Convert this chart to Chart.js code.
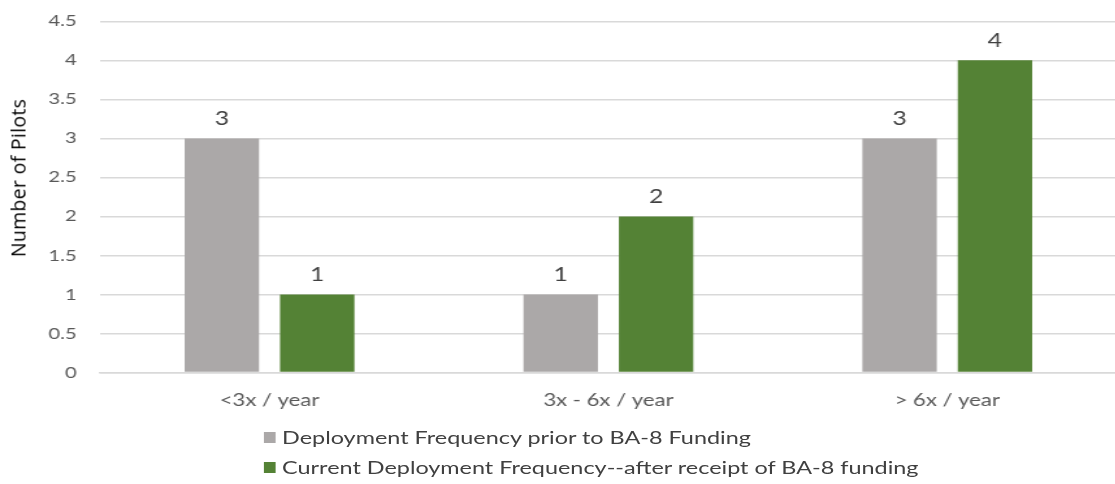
<!DOCTYPE html>
<html>
<head>
<meta charset="utf-8">
<script src="https://cdn.jsdelivr.net/npm/chart.js@4/dist/chart.umd.min.js"></script>
<style>
  html, body { margin: 0; padding: 0; background: #fff; overflow: hidden; }
  /* la imagen original esta estirada en horizontal */
  #todo { position: absolute; left: 0; top: 0; width: 866px; height: 484px; transform: scaleX(1.3); transform-origin: 0 0; }
  #wrap { position: absolute; left: 0; top: -6px; width: 866px; height: 427px; }
  #legend { position: absolute; left: 203px; top: 422px; font-family: Lato, "Open Sans", sans-serif; font-size: 18px; color: #404040; }
  #legend div { height: 30px; line-height: 30px; white-space: nowrap; }
  #legend span { display: inline-block; width: 8.5px; height: 11px; margin-right: 5.5px; vertical-align: 1px; }
  #titulo { position: absolute; left: 18px; top: 178px; transform: translate(-50%, -50%) rotate(-90deg); font-family: "Open Sans", sans-serif; font-size: 19.5px; letter-spacing: 0.3px; color: #000; white-space: nowrap; }
</style>
</head>
<body>
<div id="todo">
  <div id="wrap"><canvas id="grafico"></canvas></div>
  <div id="legend"></div>
</div>
<div id="titulo">Number of Pilots</div>
<script>
// categorias y series
const categorias = ['<3x / year', '3x - 6x / year', '> 6x / year'];
const antes = [3, 1, 3];
const despues = [1, 2, 4];
const nombres = ['Deployment Frequency prior to BA-8 Funding', 'Current Deployment Frequency--after receipt of BA-8 funding'];
const colores = ['#aba8a8', '#548235'];
const ticksY = [0, 0.5, 1, 1.5, 2, 2.5, 3, 3.5, 4, 4.5];

// etiquetas encima de las barras
const etiquetas = {
    id: 'etiquetas',
    afterDatasetsDraw(chart) {
        const ctx = chart.ctx;
        ctx.save();
        ctx.font = '19px Lato, "Open Sans", sans-serif';
        ctx.fillStyle = '#404040';
        ctx.textAlign = 'center';
        ctx.textBaseline = 'bottom';
        chart.data.datasets.forEach((ds, i) => {
            chart.getDatasetMeta(i).data.forEach((bar, j) => {
                ctx.fillText(ds.data[j], bar.x, bar.y - 10);
            });
        });
        ctx.restore();
    }
};

const ctx = document.getElementById('grafico').getContext('2d');
new Chart(ctx, {
    type: 'bar',
    data: {
        labels: categorias,
        datasets: [
            { label: nombres[0], data: antes, backgroundColor: colores[0] },
            { label: nombres[1], data: despues, backgroundColor: colores[1] }
        ]
    },
    options: {
        responsive: true,
        maintainAspectRatio: false,
        animation: false,
        layout: { padding: { top: 0, right: 7, left: 0, bottom: 0 } },
        categoryPercentage: 0.563,
        barPercentage: 0.78,
        plugins: {
            legend: { display: false },
            tooltip: { enabled: false }
        },
        scales: {
            x: {
                grid: { display: false },
                border: { color: '#d9d9d9', width: 1.5 },
                ticks: {
                    color: '#595959',
                    padding: 10,
                    font: { family: 'Lato, "Open Sans", sans-serif', size: 17 }
                }
            },
            y: {
                min: 0,
                max: 4.5,
                afterFit: (s) => { s.width = 77; },
                afterBuildTicks: (s) => { s.ticks = ticksY.map(v => ({ value: v })); },
                grid: { color: '#d9d9d9', lineWidth: 1.5, drawTicks: false },
                border: { display: false },
                ticks: {
                    color: '#595959',
                    padding: 18,
                    callback: (v) => String(v),
                    font: { family: 'Lato, "Open Sans", sans-serif', size: 15.5 }
                }
            }
        }
    },
    plugins: [etiquetas]
});

// leyenda
const leyenda = document.getElementById('legend');
nombres.forEach((n, i) => {
    const fila = document.createElement('div');
    const caja = document.createElement('span');
    caja.style.background = colores[i];
    fila.appendChild(caja);
    fila.appendChild(document.createTextNode(n));
    leyenda.appendChild(fila);
});
</script>
</body>
</html>
